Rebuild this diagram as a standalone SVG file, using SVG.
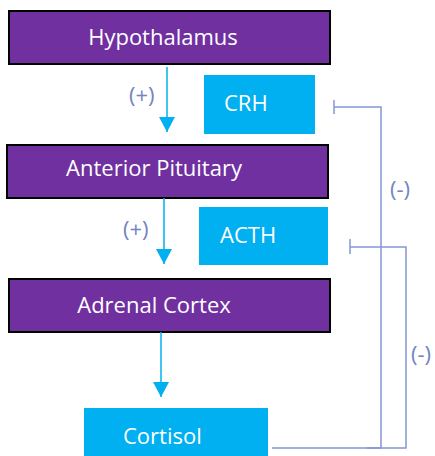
<svg xmlns="http://www.w3.org/2000/svg" width="435" height="456" viewBox="0 0 435 456">
<defs>
<style>
.organ{fill:#7030A0;stroke:#000;stroke-width:2}
.hormone{fill:#00B0F0}
.t{font-family:"Open Sans","Liberation Sans",sans-serif;fill:#fff;font-size:22px}
.lbl{font-family:"Open Sans","Liberation Sans",sans-serif;fill:#7384C4;font-size:22px}
.fb{fill:none;stroke:#8497D4;stroke-width:1.5}
.ar{stroke:#00B0F0;stroke-width:1.5;fill:none}
</style>
<marker id="ah" markerWidth="16" markerHeight="16" refX="15" refY="8" orient="auto" markerUnits="userSpaceOnUse">
<path d="M0,0 L15,8 L0,16 Z" fill="#00B0F0"/>
</marker>
</defs>
<rect width="435" height="456" fill="#fff"/>
<g id="hypothalamus"><rect class="organ" x="9" y="11" width="321" height="53"/><text class="t" x="163" y="45" text-anchor="middle">Hypothalamus</text></g>
<g id="anterior-pituitary"><rect class="organ" x="7" y="145" width="321" height="53"/><text class="t" x="154" y="176" text-anchor="middle">Anterior Pituitary</text></g>
<g id="adrenal-cortex"><rect class="organ" x="9" y="279" width="321" height="53"/><text class="t" x="154" y="313" text-anchor="middle">Adrenal Cortex</text></g>
<g id="crh"><rect class="hormone" x="204" y="75" width="111" height="59"/><text class="t" x="224" y="111">CRH</text></g>
<g id="acth"><rect class="hormone" x="199" y="207" width="129" height="58"/><text class="t" x="220" y="243">ACTH</text></g>
<g id="cortisol"><rect class="hormone" x="84" y="408" width="184" height="50"/><text class="t" x="123" y="444">Cortisol</text></g>
<g id="connectors">
<line class="ar" x1="167" y1="67" x2="167" y2="132" marker-end="url(#ah)"/>
<line class="ar" x1="164" y1="198" x2="164" y2="264" marker-end="url(#ah)"/>
<line class="ar" x1="161" y1="332" x2="161" y2="397" marker-end="url(#ah)"/>
<polyline class="fb" points="272,448 381,448 381,107 334,107"/>
<line class="fb" x1="334" y1="100" x2="334" y2="114" stroke-width="2"/>
<polyline class="fb" points="367,448 406,448 406,247 350,247"/>
<line class="fb" x1="350" y1="239" x2="350" y2="254" stroke-width="2"/>
<text class="lbl" x="129" y="103">(+)</text>
<text class="lbl" x="123" y="237">(+)</text>
<text class="lbl" x="390" y="197">(-)</text>
<text class="lbl" x="411" y="362">(-)</text>
</g>
</svg>
